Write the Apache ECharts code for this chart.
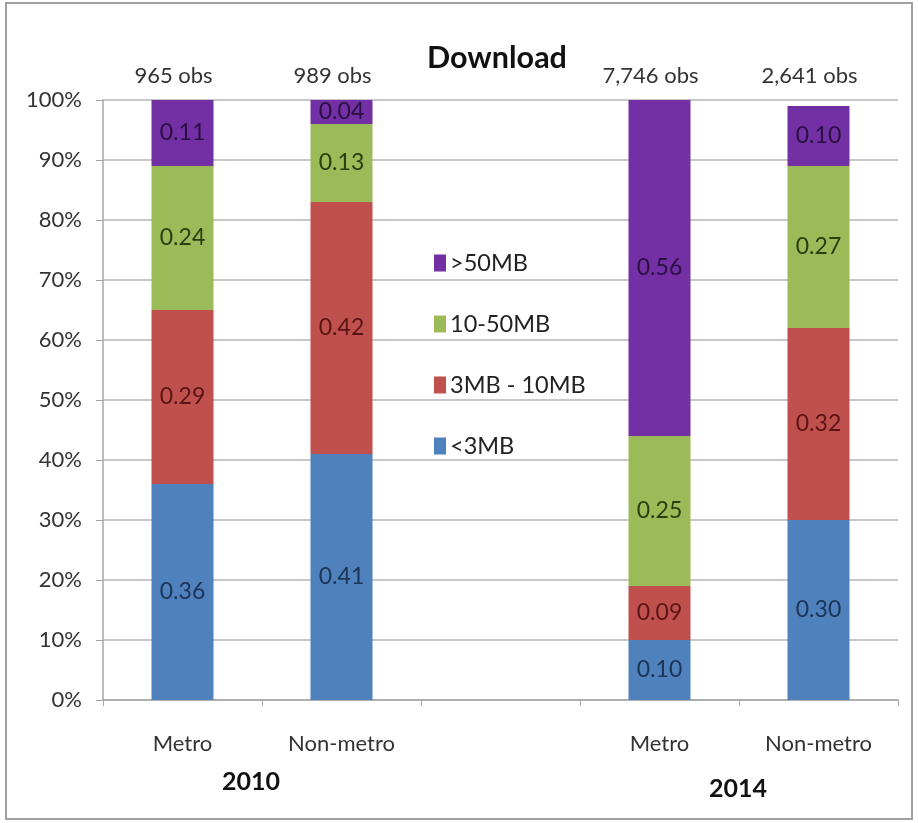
<!DOCTYPE html>
<html>
<head>
<meta charset="utf-8">
<script src="https://cdn.jsdelivr.net/npm/echarts@6/dist/echarts.min.js"></script>
<style>
  html, body { margin: 0; padding: 0; background: #ffffff; }
  #chart { width: 918px; height: 823px; }
</style>
</head>
<body>
<div id="chart"></div>
<script>
// Download speed shares by area type, 2010 vs 2014
const categories = ['Metro', 'Non-metro', '', 'Metro', 'Non-metro'];
const obsLabels = ['965 obs', '989 obs', '', '7,746 obs', '2,641 obs'];
const yearLabels = ['2010', '2014'];

const seriesNames = ['<3MB', '3MB - 10MB', '10-50MB', '>50MB'];
const under3 = [0.36, 0.41, null, 0.10, 0.30];
const from3to10 = [0.29, 0.42, null, 0.09, 0.32];
const from10to50 = [0.24, 0.13, null, 0.25, 0.27];
const over50 = [0.11, 0.04, null, 0.56, 0.10];

const FONT = "Lato, 'Noto Sans', sans-serif";
const fills = ['#4F81BD', '#C0504D', '#9BBB59', '#7330A5'];
const labelInk = ['#1c3455', '#5a1414', '#2c3d10', '#2a0f40'];
const values = [under3, from3to10, from10to50, over50];

const chart = echarts.init(document.getElementById('chart'));

const series = values.map((vals, i) => ({
  name: seriesNames[i],
  type: 'bar',
  stack: 'share',
  barWidth: 62,
  data: vals,
  itemStyle: { color: fills[i] },
  label: {
    show: true,
    position: 'inside',
    fontFamily: FONT,
    fontSize: 23,
    color: labelInk[i],
    formatter: p => (p.value == null ? '' : Number(p.value).toFixed(2))
  }
}));

chart.setOption({
  backgroundColor: '#ffffff',
  animation: false,
  textStyle: { fontFamily: FONT },
  title: {
    text: 'Download',
    left: 492,
    top: 38,
    textAlign: 'center',
    textStyle: { fontFamily: FONT, fontSize: 30.5, fontWeight: 'bold', color: '#111111' }
  },
  legend: {
    data: ['>50MB', '10-50MB', '3MB - 10MB', '<3MB'],
    orient: 'vertical',
    left: 429,
    top: 246,
    itemWidth: 12,
    itemHeight: 17,
    itemGap: 37,
    icon: 'rect',
    textStyle: { fontFamily: FONT, fontSize: 23.5, color: '#222222', padding: [0, 0, 0, -1] }
  },
  grid: { left: 103, right: 20, top: 100, bottom: 123 },
  xAxis: [
    {
      type: 'category',
      data: categories,
      position: 'bottom',
      axisLine: { lineStyle: { color: '#a6a6a6', width: 1.5 } },
      axisTick: { show: true, length: 6, lineStyle: { color: '#a6a6a6' } },
      axisLabel: { fontFamily: FONT, fontSize: 22, color: '#333333', margin: 33 }
    },
    {
      type: 'category',
      data: obsLabels,
      position: 'top',
      axisLine: { show: false },
      axisTick: { show: false },
      axisLabel: { fontFamily: FONT, fontSize: 22, color: '#333333', margin: 13, padding: [0, 18, 0, 0] }
    }
  ],
  yAxis: {
    type: 'value',
    min: 0,
    max: 1,
    interval: 0.1,
    axisLine: { show: true, lineStyle: { color: '#a6a6a6', width: 1.5 } },
    axisTick: { show: true, length: 7, lineStyle: { color: '#a6a6a6' } },
    splitLine: { lineStyle: { color: '#b4b4b4', width: 1.5 } },
    axisLabel: {
      fontFamily: FONT,
      fontSize: 22,
      color: '#333333',
      margin: 21,
      formatter: v => Math.round(v * 100) + '%'
    }
  },
  graphic: [
    {
      type: 'rect',
      shape: { x: 6, y: 3, width: 906, height: 816 },
      style: { fill: 'none', stroke: '#a0a0a0', lineWidth: 2 },
      silent: true
    },
    {
      type: 'text',
      left: 222,
      top: 769,
      style: { text: yearLabels[0], fontFamily: FONT, fontSize: 25, fontWeight: 'bold', fill: '#111111' }
    },
    {
      type: 'text',
      left: 709,
      top: 776,
      style: { text: yearLabels[1], fontFamily: FONT, fontSize: 25, fontWeight: 'bold', fill: '#111111' }
    }
  ],
  series: series
});
</script>
</body>
</html>
